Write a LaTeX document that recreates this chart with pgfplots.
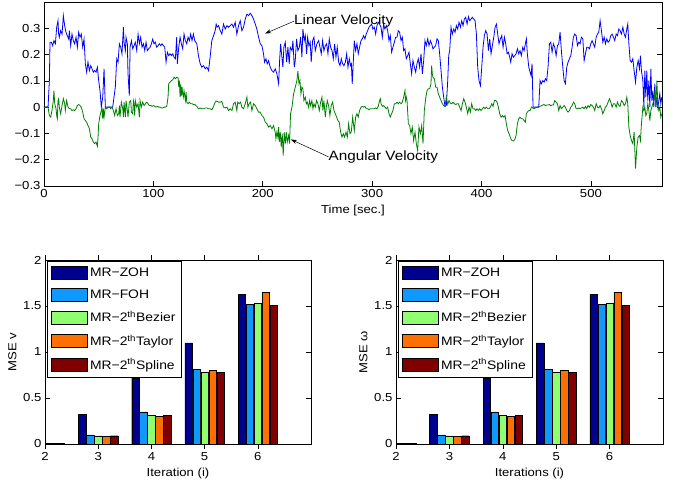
\documentclass[border=0pt]{standalone}
\usepackage{fontspec}
\setmainfont{Liberation Sans}[FakeStretch=1.13]
\usepackage{pgfplots}
\pgfplotsset{compat=1.18}
\usetikzlibrary{arrows.meta}

\definecolor{cZOH}{rgb}{0,0,0.56}
\definecolor{cFOH}{rgb}{0.06,0.6,1}
\definecolor{cBez}{rgb}{0.56,1,0.44}
\definecolor{cTay}{rgb}{1,0.44,0}
\definecolor{cSpl}{rgb}{0.5,0,0}
\definecolor{mgreen}{rgb}{0,0.5,0}

\newcommand{\mfont}{\fontsize{11.6}{13.5}\selectfont}
\newcommand{\lfont}{\fontsize{12.3}{14}\selectfont}
\newcommand{\afont}{\fontsize{13.5}{15.5}\selectfont}

\pgfplotsset{
  mstyle/.style={
    scale only axis,
    axis line style={line width=0.8pt},
    tick style={black, line width=0.6pt},
    major tick length=5pt,
    tick label style={font=\mfont},
    label style={font=\mfont},
    /pgf/number format/assume math mode=true,
  },
  barstyle/.style={
    mstyle,
    height=184pt,
    xmin=2, xmax=7, ymin=0, ymax=2,
    xtick={2,3,4,5,6},
    ytick={0,0.5,1,1.5,2},
    yticklabels={0,0.5,1,1.5,2},
    ybar, bar width=0.14,
    legend cell align=left,
    legend style={at={(0.008,0.995)}, anchor=north west, draw=black, line width=0.6pt,
      fill=white, font=\lfont, nodes={font=\lfont}, row sep=7.5pt,
      inner xsep=4pt, inner ysep=5pt},
    legend image code/.code={\draw[#1, line width=0.6pt] (0pt,-6.5pt) rectangle (36pt,6.5pt);},
  },
}

\begin{document}
\begin{tikzpicture}
\useasboundingbox (0,0) rectangle (680pt,482pt);

% ---- top: velocities over time ----
\begin{axis}[mstyle, at={(44pt,296pt)}, anchor=south west,
  width=618pt, height=184pt,
  xmin=0, xmax=565, ymin=-0.3, ymax=0.4,
  xtick={0,100,200,300,400,500},
  ytick={-0.3,-0.2,-0.1,0,0.1,0.2,0.3},
  yticklabels={−0.3,−0.2,−0.1,0,0.1,0.2,0.3},
  xlabel={Time [sec.]},
]
\addplot[blue, line width=0.8pt] coordinates {
(0,0) (3.7,0) (4.9,0.10) (5.5,0.247) (6.7,0.247) (7.9,0.234) (9.1,0.253) (10.4,0.241)
(11.6,0.304) (12.8,0.329) (13.4,0.278) (14.0,0.266) (15.2,0.291) (16.5,0.278) (17.7,0.348)
(18.9,0.310) (20.1,0.285) (21.3,0.272) (22.6,0.259) (23.2,0.291) (24.4,0.234) (25.6,0.278)
(26.8,0.253) (28.0,0.241) (29.3,0.266) (30.5,0.228) (31.7,0.285) (32.9,0.266) (34.1,0.278)
(35.4,0.228) (36.6,0.259) (37.8,0.165) (39.0,0.133) (40.2,0.171) (41.5,0.139) (42.7,0.158)
(43.9,0.146) (45.1,0.133) (46.3,0.139) (47.6,0.133) (48.8,0.152) (50.0,0.101) (51.2,0.063)
(52.4,0) (53.7,0.038) (54.9,0.146) (56.1,0) (57.3,0) (58.5,0) (59.8,0) (61.6,0) (62.8,0)
(64.0,0.038) (65.2,0.076) (66.5,0.184) (67.7,0.171) (68.9,0.241) (70.1,0.228) (71.3,0.203)
(72.6,0.304) (73.2,0.247) (74.4,0.215) (75.0,0.266) (76.2,0.241) (76.8,0.127) (78.0,0.044)
(78.7,0.228) (79.9,0.253) (81.1,0.222) (82.3,0.234) (83.5,0.247) (84.8,0.215) (86.0,0.278)
(87.2,0.241) (88.4,0.266) (89.6,0.228) (90.9,0.241) (92.1,0.215) (93.3,0.247) (94.5,0.215)
(95.7,0.222) (97.0,0.228) (98.2,0.241) (99.4,0.259) (100.6,0.241) (101.8,0.247) (103.0,0.228)
(104.3,0.234) (105.5,0.241) (106.7,0.234) (107.9,0.241) (109.1,0.234) (110.4,0.228)
(111.6,0.171) (112.8,0.209) (114.0,0.196) (115.2,0.203) (116.5,0.196) (117.7,0.203)
(118.9,0.190) (120.1,0.184) (121.3,0.266) (121.9,0.165) (123.2,0.228) (124.4,0.266)
(125.6,0.241) (126.8,0.222) (128.0,0.278) (129.2,0.253) (130.5,0.241) (131.7,0.266)
(132.9,0.253) (134.1,0.278) (135.3,0.253) (136.6,0.278) (137.8,0.253)
(139.7,0.241) (141.2,0.196) (142.8,0.165) (144.3,0.152) (145.8,0.158) (147.4,0.146)
(148.9,0.152) (150.4,0.139) (151.9,0.190) (153.4,0.253) (155.0,0.272) (156.5,0.291)
(157.4,0.316) (158.3,0.304) (159.6,0.310) (161.1,0.291) (162.6,0.278) (164.1,0.316)
(165.7,0.297) (167.2,0.310) (168.7,0.304) (170.2,0.310) (171.8,0.316) (173.3,0.304)
(174.8,0.323) (176.3,0.278) (177.9,0.310) (179.4,0.329) (180.9,0.291) (182.4,0.304)
(184.0,0.335) (185.5,0.354) (187.0,0.348) (188.5,0.357) (190.1,0.348) (191.6,0.335)
(193.1,0.316) (194.6,0.297) (196.2,0.266) (197.7,0.241) (199.2,0.234) (200.7,0.203)
(201.6,0.171) (202.9,0.184) (204.1,0.165) (205.3,0.177) (206.8,0.152) (208.4,0.139)
(209.9,0.133) (211.4,0.146) (212.9,0.127) (214.5,0.089) (215.4,0.177) (216.3,0.241)
(217.5,0.190) (218.4,0.152) (219.3,0.228) (220.6,0.247) (221.8,0.171) (223.0,0.228)
(224.2,0.165) (225.1,0.228) (226.7,0.215) (227.6,0.253) (228.8,0.152) (229.7,0.177)
(230.9,0.260) (232.1,0.215) (233.4,0.228) (234.6,0.266) (235.8,0.190) (236.7,0.297)
(237.9,0.253) (238.9,0.272) (240.1,0.203) (241.0,0.266) (242.2,0.234) (243.4,0.247)
(244.3,0.171) (245.6,0.253) (246.8,0.266) (248.0,0.215) (249.5,0.241) (251.1,0.253)
(252.3,0.228) (253.5,0.203) (254.7,0.253) (255.9,0.215) (257.2,0.234) (258.4,0.241)
(259.6,0.203) (260.8,0.260) (262.0,0.228) (263.3,0.215) (264.5,0.184) (265.7,0.241)
(266.9,0.190) (268.1,0.228) (269.4,0.171) (270.6,0.158) (271.8,0.184) (273.0,0.165)
(274.2,0.158) (275.5,0.171) (276.7,0.203) (277.9,0.152) (279.1,0.184) (280.3,0.158)
(281.0,0.165) (281.8,0.089)
(283.7,0.253) (284.9,0.215) (286.1,0.241) (287.3,0.203) (288.5,0.228) (289.8,0.253)
(291.0,0.260) (292.2,0.272) (293.4,0.260) (294.6,0.278) (295.9,0.291) (297.1,0.304)
(298.3,0.310) (299.5,0.316) (300.7,0.297) (302.0,0.304) (303.2,0.278) (304.4,0.310)
(305.6,0.323) (306.8,0.316) (308.1,0.304) (309.3,0.266) (310.5,0.316) (311.7,0.297)
(312.9,0.310) (314.2,0.291) (315.4,0.253) (316.6,0.272) (317.8,0.209) (319.0,0.228)
(320.3,0.247) (321.5,0.266) (322.7,0.266) (323.9,0.291) (325.1,0.285) (326.4,0.253)
(327.6,0.266) (328.8,0.215) (330.0,0.222) (331.2,0.184) (332.5,0.196) (333.7,0.209)
(334.9,0.165) (336.1,0.127) (337.3,0.177) (338.6,0.152) (339.8,0.133) (341.0,0.165)
(342.2,0.184) (343.4,0.152) (344.7,0.203) (345.9,0.127) (347.1,0.177) (348.3,0.253)
(349.5,0.234) (350.8,0.260) (352.0,0.234) (353.2,0.253) (354.4,0.241) (355.6,0.222)
(356.9,0.228) (358.1,0.234) (359.3,0.260) (360.5,0.253) (361.7,0.203) (363.0,0.139)
(364.2,0.076) (365.4,0.038) (366.6,0.003) (367.8,0.006) (369.1,0.101) (370.0,0.196)
(370.9,0.215) (372.1,0.304) (373.3,0.278) (374.6,0.297) (375.8,0.285) (377.0,0.310)
(378.2,0.297) (379.4,0.323) (380.7,0.304) (381.9,0.329) (383.1,0.310) (384.3,0.335)
(385.5,0.342) (386.8,0.316) (388.0,0.344) (389.2,0.329) (390.4,0.335) (391.6,0.342)
(392.9,0.335) (394.1,0.329) (395.3,0.278) (396.5,0.152) (397.7,0.101) (399.0,0.082)
(400.2,0.152) (401.4,0.228) (402.6,0.272) (403.8,0.291) (405.1,0.278) (406.3,0.215)
(407.5,0.260) (408.7,0.203) (409.9,0.234) (411.2,0.266) (412.4,0.304) (413.6,0.316)
(414.8,0.278) (416.0,0.241) (417.3,0.260) (418.5,0.272) (419.7,0.228) (420.9,0.266)
(422.1,0.241) (423.4,0.203) (424.6,0.209) (425.8,0.190)
(426.7,0.171) (427.9,0.203) (429.1,0.190) (430.3,0.196) (431.6,0.203) (432.8,0.222)
(434.0,0.203) (435.2,0.215) (436.4,0.196) (437.7,0.228) (438.9,0.215) (440.1,0.241)
(441.0,0.260) (441.9,0.203) (443.2,0.152) (444.4,0.133) (445.3,0.120) (446.2,0.165)
(447.1,0) (448.0,0) (449.3,0) (450.8,0) (452.3,0) (453.5,0.101) (454.7,0.089)
(456.0,0.101) (457.2,0.095) (458.4,0.108) (459.6,0.101) (460.8,0.152) (462.1,0.241)
(463.3,0.247) (464.5,0.209) (465.7,0.241) (466.9,0.228) (468.2,0.196) (469.4,0.234)
(470.6,0.241) (471.8,0.285) (473.0,0.215) (474.3,0.152) (475.5,0.101) (476.7,0.089)
(477.9,0.152) (479.1,0.171) (480.4,0.184) (481.6,0.196) (482.8,0.228) (484.0,0.266)
(485.2,0.278) (486.5,0.272) (487.7,0.234) (488.9,0.247) (490.1,0.241) (491.3,0.266)
(492.6,0.260) (493.8,0.177) (495.0,0.203) (496.2,0.228) (497.4,0.228) (498.7,0.222)
(499.9,0.241) (501.1,0.253) (502.3,0.241) (503.5,0.228) (504.8,0.266) (506.0,0.278)
(507.2,0.285) (508.4,0.329) (509.6,0.291) (510.9,0.247) (512.1,0.266) (513.3,0.241)
(514.5,0.260) (515.7,0.247) (517.0,0.253) (518.2,0.272) (519.4,0.278) (520.6,0.266)
(521.8,0.253) (523.1,0.278) (524.3,0.272) (525.5,0.297) (526.7,0.291) (527.9,0.278)
(529.2,0.304) (530.4,0.278) (531.6,0.266) (532.8,0.297) (533.7,0.316) (534.7,0.241)
(535.9,0.177) (537.1,0.171) (538.3,0.184) (539.5,0.139) (540.8,0.095) (542.0,0.152)
(543.2,0.177) (544.4,0.146) (545.3,0.196) (546.2,0.139) (547.5,0.101) (548.4,0)
(549.3,0.139) (550.2,0.038) (551.1,0.139) (552.0,0.025) (553.0,0.101) (553.9,0)
(554.8,0.146) (555.7,0.025) (556.6,0.063) (557.5,0) (558.4,0.089) (559.4,0)
(560.3,0.038) (561.2,0) (562.1,0.025) (563.0,0.051) (563.9,0.013) (564.8,0.038)
};
\addplot[mgreen, line width=0.8pt] coordinates {
(0,0) (3.7,0) (4.9,-0.032) (6.1,-0.038) (7.3,-0.013) (8.5,0.025) (9.1,0.063) (9.8,0.013)
(11.0,-0.006) (11.6,-0.032) (12.2,-0.044) (12.8,0.025) (13.4,0.032) (14.0,0) (15.2,-0.025)
(16.5,0.006) (17.7,0.032) (18.9,0.013) (19.5,-0.013) (20.7,0.025) (22.0,0) (23.2,-0.006)
(24.4,-0.006) (25.6,-0.013) (26.8,-0.010) (28.0,-0.013) (29.3,-0.006) (30.5,0.006)
(31.7,0.010) (32.9,0.006) (34.1,0) (35.4,-0.019) (36.6,-0.044) (37.8,-0.051) (39.0,-0.057)
(40.2,-0.070) (41.5,-0.082) (42.7,-0.114) (43.9,-0.120) (45.1,-0.133) (46.3,-0.139)
(47.6,-0.133) (48.8,-0.149) (49.4,-0.114) (50.0,-0.063) (51.2,-0.032) (52.4,-0.013)
(53.0,-0.006) (53.7,-0.044) (54.3,-0.006) (54.9,-0.038) (56.1,0) (57.3,-0.006) (58.5,0)
(59.8,0) (61.0,-0.006) (62.2,0) (63.4,-0.013) (64.6,-0.032) (65.2,-0.019) (65.9,-0.006)
(67.1,-0.032) (68.3,-0.025) (68.9,0.006) (69.5,-0.038) (70.7,0.019) (72.0,-0.006)
(72.6,-0.038) (73.2,0.019) (74.4,-0.038) (75.0,0.025) (76.2,-0.013) (76.8,-0.038)
(78.0,0.019) (79.3,0.025) (79.9,-0.019) (81.1,-0.025) (81.7,0.025) (82.3,0.013)
(82.9,-0.032) (83.5,0.025) (84.8,0) (86.0,0.013) (87.2,-0.038) (87.8,0.025) (89.0,0)
(90.2,0.019) (91.5,0.006) (92.7,0.013) (93.9,0.019) (95.1,0.013) (96.3,0.006) (97.6,0.006)
(98.8,0.003) (100.0,0.006) (101.2,0.003) (102.4,0) (103.7,0.003) (104.9,0) (106.1,0)
(107.3,-0.003) (108.5,-0.003) (109.8,0) (111.0,0) (112.2,0.003) (113.4,0.038) (114.0,0.089)
(115.2,0.095) (116.5,0.101) (117.7,0.104) (118.9,0.114) (120.1,0.108) (121.3,0.114)
(122.6,0.111) (123.2,0.076) (123.8,0.101) (124.4,0.038) (125.0,0.089) (125.6,0.044)
(126.2,0.076) (126.8,0.051) (127.4,0.038) (128.0,0.063) (129.3,0.025) (129.9,0.057)
(130.5,0.019) (131.7,0.013) (132.9,0.019) (134.1,0.013) (135.4,0.013) (136.6,0.010)
(137.8,0.010)
(139.7,0.003) (141.2,-0.006) (142.8,-0.003) (144.3,-0.006) (145.8,-0.006) (147.4,-0.003)
(148.9,-0.003) (150.4,-0.006) (151.9,-0.006) (153.4,-0.010) (155.0,0.003) (156.5,0.019)
(157.4,0.023) (159.6,0.019) (161.1,0.019) (162.6,0.022) (164.1,0) (165.7,-0.003) (167.2,0)
(168.7,-0.013) (170.2,-0.006) (171.8,-0.013) (173.3,0.013) (174.8,0.019) (176.3,-0.013)
(177.1,0.019) (178.5,0.013) (179.7,0.019) (180.9,0) (182.4,-0.006) (184.0,0.013)
(185.5,0.038) (186.4,0) (187.6,0.013) (188.8,0.019) (190.1,-0.013) (191.6,0.013)
(193.1,0.006) (194.6,-0.006) (196.2,-0.019) (197.7,-0.019) (199.2,-0.032) (200.7,-0.038)
(202.3,-0.057) (203.8,-0.063) (205.3,-0.076) (206.8,-0.070) (208.4,-0.082) (209.9,-0.070)
(211.4,-0.095) (212.0,-0.120) (212.9,-0.095) (213.8,-0.114) (214.5,-0.076) (215.1,-0.133)
(216.0,-0.095) (216.9,-0.152) (217.8,-0.101) (218.7,-0.184) (219.6,-0.095) (220.6,-0.139)
(221.5,-0.095) (222.4,-0.133) (223.6,-0.108) (224.5,-0.139) (225.4,-0.025) (226.7,0)
(228.2,0.051) (229.7,0.076) (231.2,0.101) (232.1,0.137) (233.1,0.089) (234.0,0.101)
(234.9,0.051) (235.8,0.076) (236.7,0.070) (237.6,0.025) (238.9,0.038) (239.8,0.013)
(240.7,0.019) (241.9,0) (242.8,0.025) (243.7,0.006) (244.9,0.025) (245.9,-0.006)
(246.8,0.013) (248.0,0) (249.2,0.025) (250.4,0.013) (251.7,-0.013) (252.9,0.019)
(254.1,0.038) (255.0,-0.013) (255.9,0.025) (257.2,-0.038) (258.1,0) (259.0,0.025)
(260.2,0.006) (261.4,-0.032) (262.6,0.006) (263.9,0.019) (265.1,-0.013) (266.3,-0.025)
(267.5,-0.038) (268.7,-0.051) (269.9,-0.057) (271.2,-0.095) (272.4,-0.114) (273.6,-0.101)
(274.8,-0.114) (276.1,-0.095) (277.3,-0.114) (278.5,-0.063) (279.7,-0.101) (280.9,-0.095)
(282.2,-0.038)
(283.7,-0.089) (284.9,-0.038) (286.1,-0.025) (287.3,-0.038) (288.5,-0.013) (289.8,0)
(291.0,0.003) (292.2,0) (293.4,0.003) (294.6,-0.006) (295.9,-0.006) (297.1,-0.010)
(298.3,-0.006) (299.5,-0.006) (300.7,-0.006) (302.0,-0.006) (303.2,-0.003) (304.4,-0.006)
(305.6,0.003) (306.8,0.025) (307.5,0.032) (308.1,0.013) (309.3,0.003) (310.5,0.006)
(311.7,0) (312.9,-0.006) (314.2,0) (315.4,-0.025) (316.6,-0.038) (317.8,-0.025)
(319.0,-0.013) (320.3,0.013) (321.5,0.013) (322.7,0.019) (323.9,0.013) (325.1,0.019)
(326.4,0.013) (327.6,0.019) (328.8,0.038) (330.0,0.063) (330.6,0.025) (331.2,0.038)
(331.9,0.025) (333.1,-0.063) (334.3,-0.070) (335.5,-0.101) (336.7,-0.076) (337.9,-0.127)
(339.2,-0.095) (340.4,-0.139) (341.6,-0.165) (342.8,-0.076) (344.1,-0.101) (345.3,-0.070)
(346.5,-0.139) (347.7,-0.013) (348.9,0.032) (350.2,0.063) (351.4,0.070) (352.6,0.070)
(353.8,0.089) (354.4,0.158) (355.0,0.127) (355.6,0.114) (356.9,0.108) (358.1,0.076)
(359.3,0.076) (360.5,0.051) (361.7,0.038) (363.0,0.025) (364.2,0.013) (365.4,0.006)
(366.6,0.003) (367.8,0.038) (369.1,0.010) (370.3,0.025) (371.5,0.015) (372.7,0.013)
(373.9,0.019) (375.2,0.013) (376.4,0.010) (377.6,0.013) (378.8,0.013) (380.0,0)
(381.3,-0.013) (382.5,0.013) (383.7,0.032) (384.9,0.019) (386.1,0) (387.4,-0.025)
(388.6,0) (389.8,-0.019) (391.0,0.013) (392.2,-0.006) (393.5,-0.006) (394.7,-0.013)
(395.9,-0.006) (397.1,-0.013) (398.3,-0.006) (399.6,-0.013) (400.8,-0.006) (402.0,0)
(403.2,-0.006) (404.4,0) (405.7,-0.006) (406.9,-0.006) (408.1,0) (409.3,0.013)
(410.5,0.003) (411.8,0.025) (413.0,0.025) (414.2,0.019) (415.4,0) (416.6,-0.025)
(417.9,-0.038) (419.1,-0.032) (420.3,-0.038) (421.5,-0.032) (422.7,-0.063) (423.9,-0.089)
(425.2,-0.101)
(426.7,-0.120) (427.9,-0.127) (429.1,-0.129) (430.3,-0.124) (431.6,-0.108) (432.8,-0.063)
(434.0,-0.044) (435.2,-0.038) (436.4,-0.044) (437.7,-0.044) (438.9,-0.051) (440.1,-0.057)
(441.0,-0.025) (441.9,-0.019) (443.2,-0.013) (444.4,-0.013) (445.6,0) (446.8,-0.003)
(448.0,-0.006) (449.3,-0.003) (450.8,0) (452.3,0) (453.5,0.003) (454.7,0.005) (456.0,0.008)
(457.2,0.010) (458.4,0.006) (459.6,0.008) (460.8,0.008) (462.1,0.010) (463.3,0.005)
(464.5,0.008) (465.7,0.008) (466.9,0.025) (468.2,0.019) (469.4,0.013) (470.6,-0.013)
(471.8,0.006) (473.0,-0.006) (474.3,0) (475.5,0.006) (476.7,0) (477.9,-0.013)
(479.1,-0.019) (480.4,-0.013) (481.6,0) (482.8,0.006) (484.0,0.019) (485.2,0.013)
(486.5,-0.006) (487.7,-0.006) (488.9,-0.003) (490.1,-0.006) (491.3,-0.003) (492.6,0)
(493.8,-0.006) (495.0,0.003) (496.2,-0.006) (497.4,0.006) (498.7,0) (499.9,0.010)
(501.1,0.006) (502.3,0) (503.5,-0.013) (504.8,0.013) (506.0,0) (507.2,-0.003)
(508.4,0.006) (509.6,-0.006) (510.9,-0.025) (512.1,-0.013) (513.3,0) (514.5,0.006)
(515.7,0.019) (517.0,0.032) (518.2,0.019) (519.4,0) (520.6,0.013) (521.8,0.013)
(523.1,0) (524.3,0.019) (525.5,0.006) (526.7,0.003) (527.9,0.025) (529.2,0.019)
(530.4,0.006) (531.6,0.013) (532.8,0.038) (533.7,0.013) (534.7,-0.076) (535.9,-0.108)
(537.1,-0.127) (538.3,-0.139) (539.5,-0.095) (540.8,-0.234) (542.0,-0.152) (543.2,-0.114)
(544.4,-0.108) (545.3,-0.127) (546.2,-0.063) (547.5,0) (548.4,-0.013) (549.3,0)
(550.2,-0.032) (551.1,-0.025) (552.0,0.013) (553.0,-0.013) (553.9,-0.051) (554.8,-0.013)
(555.7,0) (556.6,0.013) (557.5,0.025) (558.4,0.063) (559.4,0) (560.3,0.101) (561.2,0.013)
(562.1,-0.013) (563.0,0) (563.9,-0.038) (564.8,-0.025)
};
\node[anchor=west, inner sep=0pt, font=\afont] (lv) at (axis cs:228.5,0.327) {Linear Velocity};
\draw[-{Stealth[length=6pt,width=4pt]}, line width=0.5pt] (lv.west) -- (axis cs:202.2,0.280);
\node[anchor=west, inner sep=0pt, font=\afont] (av) at (axis cs:260.1,-0.189) {Angular Velocity};
\draw[-{Stealth[length=6pt,width=4pt]}, line width=0.5pt] (av.west) -- (axis cs:225.7,-0.123);
\end{axis}

% ---- bottom left: MSE v ----
\begin{axis}[barstyle, at={(45pt,38pt)}, anchor=south west, width=266pt,
  xlabel={Iteration (i)}, ylabel={MSE v}]
\addplot[fill=cZOH, draw=black, line width=0.4pt, bar shift=-0.3] coordinates {(2,0.01) (3,0.32) (4,0.72) (5,1.10) (6,1.63)};
\addplot[fill=cFOH, draw=black, line width=0.4pt, bar shift=-0.15] coordinates {(2,0.01) (3,0.10) (4,0.35) (5,0.81) (6,1.52)};
\addplot[fill=cBez, draw=black, line width=0.4pt, bar shift=0] coordinates {(2,0.01) (3,0.09) (4,0.31) (5,0.78) (6,1.53)};
\addplot[fill=cTay, draw=black, line width=0.4pt, bar shift=0.15] coordinates {(2,0.01) (3,0.08) (4,0.30) (5,0.80) (6,1.65)};
\addplot[fill=cSpl, draw=black, line width=0.4pt, bar shift=0.3] coordinates {(2,0.01) (3,0.09) (4,0.31) (5,0.78) (6,1.51)};
\legend{MR−ZOH, MR−FOH, MR−2\textsuperscript{th}Bezier, MR−2\textsuperscript{th}Taylor, MR−2\textsuperscript{th}Spline}
\node[anchor=base west, inner sep=0pt, font=\mfont] at ([yshift=7pt]rel axis cs:0,1) {x 10\textsuperscript{−5}};
\end{axis}

% ---- bottom right: MSE omega ----
\begin{axis}[barstyle, at={(396pt,38pt)}, anchor=south west, width=267pt,
  xlabel={Iterations (i)}, ylabel={MSE ω}]
\addplot[fill=cZOH, draw=black, line width=0.4pt, bar shift=-0.3] coordinates {(2,0.01) (3,0.32) (4,0.72) (5,1.10) (6,1.63)};
\addplot[fill=cFOH, draw=black, line width=0.4pt, bar shift=-0.15] coordinates {(2,0.01) (3,0.10) (4,0.35) (5,0.81) (6,1.52)};
\addplot[fill=cBez, draw=black, line width=0.4pt, bar shift=0] coordinates {(2,0.01) (3,0.09) (4,0.31) (5,0.78) (6,1.53)};
\addplot[fill=cTay, draw=black, line width=0.4pt, bar shift=0.15] coordinates {(2,0.01) (3,0.08) (4,0.30) (5,0.80) (6,1.65)};
\addplot[fill=cSpl, draw=black, line width=0.4pt, bar shift=0.3] coordinates {(2,0.01) (3,0.09) (4,0.31) (5,0.78) (6,1.51)};
\legend{MR−ZOH, MR−FOH, MR−2\textsuperscript{th}Bezier, MR−2\textsuperscript{th}Taylor, MR−2\textsuperscript{th}Spline}
\node[anchor=base west, inner sep=0pt, font=\mfont] at ([yshift=7pt]rel axis cs:0,1) {x 10\textsuperscript{−5}};
\end{axis}
\end{tikzpicture}
\end{document}
